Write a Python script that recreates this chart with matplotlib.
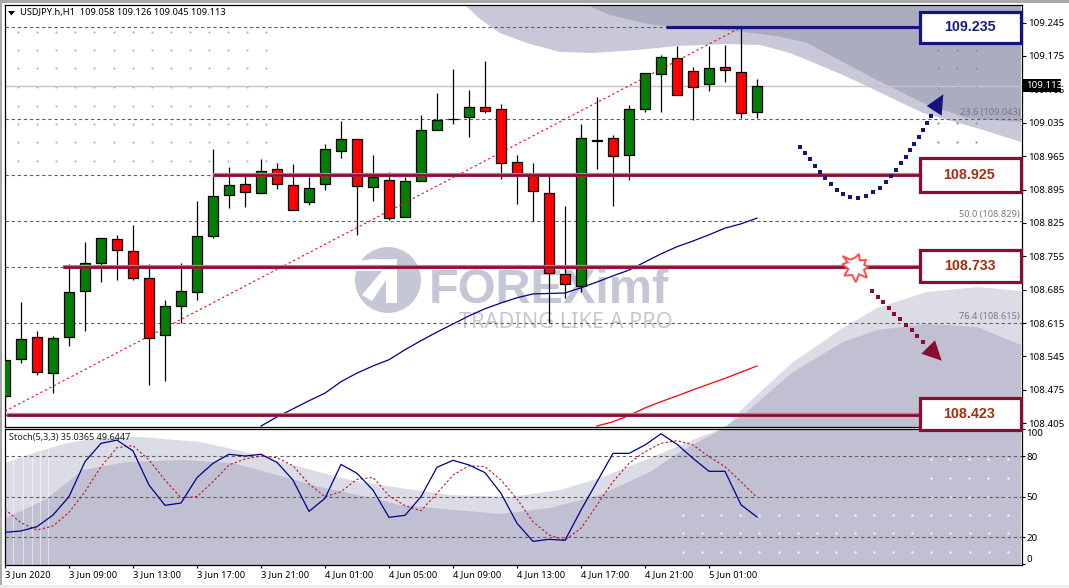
import matplotlib
matplotlib.use('Agg')
import matplotlib.pyplot as plt
from matplotlib.patches import Polygon, Rectangle, Circle

plt.rcParams['font.family'] = ['Noto Sans', 'DejaVu Sans']

W, H = 1069, 588

# candles, newest last
opens = [108.462, 108.539, 108.585, 108.510, 108.585, 108.682, 108.740, 108.791, 108.766, 108.709, 108.589, 108.650,
         108.680, 108.797, 108.883, 108.906, 108.887, 108.938, 108.904, 108.868, 108.906, 108.975, 109.000, 108.900,
         108.915, 108.837, 108.912, 109.019, 109.042, 109.047, 109.068, 109.063, 108.952, 108.923, 108.887, 108.717,
         108.692, 108.999, 109.003, 108.967, 109.063, 109.137, 109.170, 109.143, 109.116, 109.151, 109.141, 109.058]
highs = [108.537, 108.659, 108.598, 108.588, 108.738, 108.784, 108.793, 108.800, 108.821, 108.738, 108.663, 108.740,
         108.871, 108.980, 108.942, 108.928, 108.959, 108.950, 108.948, 108.922, 108.990, 109.038, 109.000, 108.968,
         108.931, 108.922, 109.051, 109.097, 109.147, 109.104, 109.164, 109.074, 108.967, 108.950, 108.927, 108.861,
         109.032, 109.089, 109.009, 109.072, 109.139, 109.177, 109.196, 109.151, 109.196, 109.198, 109.234, 109.126]
lows = [108.422, 108.532, 108.505, 108.469, 108.566, 108.599, 108.700, 108.706, 108.706, 108.484, 108.494, 108.616,
        108.664, 108.794, 108.857, 108.859, 108.887, 108.897, 108.852, 108.862, 108.894, 108.961, 108.800, 108.870,
        108.831, 108.837, 108.912, 109.019, 109.033, 109.006, 109.056, 108.916, 108.865, 108.829, 108.615, 108.667,
        108.680, 108.939, 108.861, 108.914, 109.058, 109.058, 109.093, 109.040, 109.102, 109.120, 109.045, 109.045]
closes = [108.537, 108.581, 108.512, 108.583, 108.680, 108.740, 108.793, 108.768, 108.709, 108.583, 108.650, 108.682,
          108.797, 108.881, 108.904, 108.889, 108.933, 108.906, 108.852, 108.898, 108.980, 109.000, 108.902, 108.921,
          108.835, 108.912, 109.019, 109.040, 109.043, 109.068, 109.059, 108.950, 108.925, 108.891, 108.719, 108.696,
          109.003, 108.997, 108.965, 109.063, 109.139, 109.172, 109.093, 109.110, 109.149, 109.145, 109.055, 109.113]

# moving averages start part way through the chart
ma_blue_start = 16
ma_blue = [108.399, 108.418, 108.435, 108.452, 108.468, 108.492, 108.510, 108.525, 108.538, 108.559, 108.578, 108.596,
           108.613, 108.630, 108.645, 108.657, 108.668, 108.676, 108.677, 108.678, 108.689, 108.701, 108.714, 108.726,
           108.743, 108.760, 108.775, 108.787, 108.800, 108.814, 108.823, 108.835]
ma_red_start = 37
ma_red = [108.399, 108.408, 108.421, 108.437, 108.450, 108.462, 108.475, 108.487, 108.499, 108.512, 108.525]

stoch_main = [23.7, 24.7, 27.9, 36.5, 50.1, 76.0, 89.6, 92.0, 84.0, 58.7, 43.7, 45.4, 64.2, 74.8, 81.5, 80.2,
              81.5, 75.5, 62.4, 39.2, 48.9, 74.0, 67.4, 55.0, 34.8, 36.3, 50.1, 71.9, 77.0, 73.6, 67.9, 52.6,
              30.4, 17.0, 18.5, 17.8, 40.2, 61.2, 82.2, 82.2, 88.4, 96.7, 88.9, 78.5, 68.9, 68.9, 44.1, 35.04]
stoch_signal = [40.7, 30.8, 25.4, 28.4, 38.5, 53.8, 72.3, 86.4, 87.9, 77.3, 62.4, 49.3, 50.1, 61.2, 73.6, 78.0,
                80.2, 79.0, 73.0, 59.5, 50.1, 53.8, 63.0, 64.4, 50.8, 43.4, 39.7, 52.6, 66.1, 73.0, 72.3, 62.4,
                48.4, 31.6, 21.7, 18.0, 26.7, 43.9, 61.2, 74.8, 83.4, 89.6, 91.6, 88.4, 79.7, 72.3, 61.2, 49.64]

price_ticks = [109.245, 109.175, 109.105, 109.035, 108.965, 108.895, 108.825, 108.755, 108.685, 108.615, 108.545,
               108.475, 108.405]
stoch_ticks = [0, 20, 50, 80, 100]
time_labels = ['3 Jun 2020', '3 Jun 09:00', '3 Jun 13:00', '3 Jun 17:00', '3 Jun 21:00', '4 Jun 01:00',
               '4 Jun 05:00', '4 Jun 09:00', '4 Jun 13:00', '4 Jun 17:00', '4 Jun 21:00', '5 Jun 01:00']

fib_levels = [109.235, 109.043, 108.925, 108.829, 108.733, 108.615, 108.423]
fib_text = ['23.6 (109.043)', '50.0 (108.829)', '76.4 (108.615)']
fib_text_price = [109.043, 108.829, 108.615]

resistance = 109.235
supports = [108.925, 108.733, 108.423]
support_start = [13, 3.6, 0.1]

NAVY = '#14147f'
CRIM = '#8b0c30'
LIGHT1 = '#c8c8d8'
DARK1 = '#acacc0'
LIGHT2 = '#dcdce6'
DARK2 = '#c1c0d2'
BOLD = 'Liberation Sans'


def pixel_axes(z):
    a = fig.add_axes([0, 0, 1, 1], zorder=z)
    a.set_xlim(0, W)
    a.set_ylim(H, 0)
    a.axis('off')
    return a


fig = plt.figure(figsize=(W / 100, H / 100), dpi=100, facecolor='white')

# background artwork, it runs under both panels
bg = pixel_axes(0)
top_light = [(465, 5), (480, 19), (500, 33), (527, 43), (560, 52), (593, 53), (637, 50), (677, 46), (725, 44), (760, 45),
             (790, 53), (807, 60), (843, 75), (877, 91), (923, 113), (980, 129), (1021, 142), (1021, 5)]
top_dark = [(587, 5), (610, 15), (647, 24), (680, 28), (710, 29), (743, 32), (777, 36), (807, 43), (843, 62),
            (877, 80), (923, 103), (967, 118), (1021, 122), (1021, 5)]
low_light = [(5, 463), (33, 453), (67, 443), (100, 438), (140, 437), (200, 442), (250, 453), (300, 467), (350, 480),
             (400, 488), (450, 495), (510, 497), (560, 490), (600, 478), (650, 458), (700, 437), (725, 428), (743, 408),
             (793, 362), (843, 328), (877, 308), (927, 292), (977, 287), (1021, 291), (1021, 565), (5, 565)]
low_dark = [(5, 518), (45, 500), (83, 470), (127, 462), (183, 460), (233, 463), (277, 475), (320, 487), (367, 497),
            (400, 505), (433, 508), (500, 514), (550, 508), (600, 495), (650, 472), (683, 450), (717, 432), (743, 415),
            (793, 372), (843, 342), (877, 330), (927, 324), (977, 327), (1021, 345), (1021, 565), (5, 565)]
bg.add_patch(Polygon(top_light, closed=True, fc=LIGHT1, ec='none'))
bg.add_patch(Polygon(top_dark, closed=True, fc=DARK1, ec='none'))
bg.add_patch(Polygon(low_light, closed=True, fc=LIGHT2, ec='none'))
bg.add_patch(Polygon(low_dark, closed=True, fc=DARK2, ec='none'))
bg.add_patch(Rectangle((4, 426.5), 1018, 2, fc='white', ec='none'))
bg.add_patch(Rectangle((0, 0), 2, H, fc='#a8a8a8', ec='none'))
bg.add_patch(Rectangle((0, 0), W, 2.5, fc='#a8a8a8', ec='none'))
bg.add_patch(Rectangle((0, 585), W, 3, fc='#ececec', ec='none'))

for x in [13, 23, 32, 40, 48]:
    bg.plot([x, x], [448, 565], color='white', lw=0.8, alpha=0.5)

# dot grids
dots_x = [18 + 19.1 * i for i in range(14)]
dots_y = [32, 50, 68, 87, 106, 124, 142, 161]
bg.scatter([x for x in dots_x for y in dots_y], [y for x in dots_x for y in dots_y], s=2.5, color='#b4b4ca', lw=0)
dots_x = [938, 957, 976]
dots_y = [50, 68, 87, 123, 142]
bg.scatter([x for x in dots_x for y in dots_y], [y for x in dots_x for y in dots_y], s=2.5, color='#8e8ea4', lw=0)
dots_x = [683 + 19.1 * i for i in range(18)]
dots_y = [515, 533, 552]
bg.scatter([x for x in dots_x for y in dots_y], [y for x in dots_x for y in dots_y], s=3, color='#f0f0f6', lw=0)
dots_x = [931, 950, 969, 988, 1008]
dots_y = [459, 478, 497]
bg.scatter([x for x in dots_x for y in dots_y], [y for x in dots_x for y in dots_y], s=3, color='#f0f0f6', lw=0)

# watermark
WM = '#c5c6d6'
bg.add_patch(Circle((388, 280), 33, fc=WM, ec='none'))
bg.add_patch(Polygon([(354, 271), (382, 271), (362, 295), (372, 301), (386, 280), (386, 303), (397, 303), (397, 259),
                      (372, 259), (354, 262)], closed=True, fc='white', ec='none'))
bg.text(429, 303, 'FOREXimf', fontsize=35, fontweight='bold', family=BOLD, color=WM, ha='left', va='baseline')
bg.text(459, 327.5, 'TRADING LIKE A PRO', fontsize=15.6, color=WM, ha='left', va='baseline')

# main panel
ax = fig.add_axes([4.5 / W, 1 - 426.5 / H, 1017 / W, 422 / H], zorder=2)
ax.patch.set_visible(False)
ax.set_xlim(-0.03, 63.53)
ax.set_ylim(108.398, 109.283)

for lev in fib_levels:
    ax.axhline(lev, color='#606060', lw=0.8, dashes=(3, 2.5), zorder=1)
ax.axhline(closes[-1], color='#c4c4c4', lw=1, zorder=1)

for i in range(len(opens)):
    col = 'green' if closes[i] >= opens[i] else 'red'
    ax.vlines(i, lows[i], highs[i], color='black', lw=0.9, zorder=3)
    ax.bar(i, abs(closes[i] - opens[i]), bottom=min(opens[i], closes[i]), width=0.63, color=col, edgecolor='black',
           linewidth=0.9, zorder=4)

ax.plot(range(ma_blue_start, ma_blue_start + len(ma_blue)), ma_blue, color='#00008b', lw=0.9, zorder=5)
ax.plot(range(ma_red_start, ma_red_start + len(ma_red)), ma_red, color='red', lw=0.9, zorder=5)

# fibo trend line
ax.plot([0, 46], [108.430, 109.235], color='red', lw=0.8, dashes=(2, 2.5), zorder=5)

for p, s in zip(supports, support_start):
    ax.plot([s, 57.3], [p, p], color='#c07a90', lw=3.0, zorder=6, solid_capstyle='butt')
    ax.plot([s, 57.3], [p, p], color=CRIM, lw=1.9, zorder=6, solid_capstyle='butt')
ax.plot([41.3, 57.3], [resistance, resistance], color=NAVY, lw=2.3, zorder=6, solid_capstyle='butt')

for t, p in zip(fib_text, fib_text_price):
    ax.text(63.45, p + 0.0035, t, fontsize=6.6, color='#77778a', ha='right', va='bottom', zorder=7)

ax.yaxis.tick_right()
ax.set_yticks(price_ticks)
ax.set_yticklabels(['%.3f' % p for p in price_ticks])
ax.tick_params(axis='y', length=3, width=0.8, labelsize=7, pad=1.5)
ax.set_xticks([])

# stochastic panel
ax2 = fig.add_axes([4.5 / W, 1 - 565 / H, 1017 / W, 136.5 / H], zorder=2)
ax2.patch.set_visible(False)
ax2.set_xlim(-0.03, 63.53)
ax2.set_ylim(-0.5, 100.6)
for lev in [80, 50, 20]:
    ax2.axhline(lev, color='#606060', lw=0.8, dashes=(3, 2.5), zorder=1)
ax2.plot(range(len(stoch_signal)), stoch_signal, color='#c01020', lw=0.8, dashes=(2, 2), zorder=3)
ax2.plot(range(len(stoch_main)), stoch_main, color='#00008b', lw=0.9, zorder=4)
ax2.yaxis.tick_right()
ax2.set_yticks(stoch_ticks)
labs = ax2.set_yticklabels([str(t) for t in stoch_ticks])
labs[0].set_va('bottom')
labs[-1].set_va('top')
ax2.tick_params(axis='y', length=2, width=0.8, labelsize=7, pad=1.5)
ax2.set_xticks(range(0, 4 * len(time_labels), 4))
ax2.set_xticklabels(time_labels, ha='left')
ax2.tick_params(axis='x', length=2, width=0.8, labelsize=6.7, pad=2)

for a in [ax, ax2]:
    for s in a.spines.values():
        s.set_linewidth(0.9)

# overlay: titles, boxes, arrows
top = pixel_axes(5)
top.add_patch(Polygon([(8, 11), (15, 11), (11.5, 15.5)], closed=True, fc='black', ec='none'))
top.text(20, 13, 'USDJPY.h,H1  109.058 109.126 109.045 109.113', fontsize=6.7, color='black', va='center', ha='left')
top.text(9, 437.5, 'Stoch(5,3,3) 35.0365 49.6447', fontsize=6.5, color='#222222', va='center', ha='left')

# current price flag
top.add_patch(Rectangle((1023, 79), 38, 13, fc='black', ec='none'))
top.text(1026, 85.5, '%.3f' % closes[-1], fontsize=7, color='white', va='center', ha='left')

boxes = [(109.235, 11.5, 43, NAVY, '#14207f'), (108.925, 158, 192, CRIM, '#a5300f'),
         (108.733, 250, 282, CRIM, '#a5300f'), (108.423, 398, 430, CRIM, '#a5300f')]
for val, y0, y1, ec, tc in boxes:
    top.add_patch(Rectangle((920, y0), 101, y1 - y0, fc='white', ec=ec, lw=2.3))
    top.text(969.5, (y0 + y1) / 2, '%.3f' % val, fontsize=10.3, fontweight='bold', family=BOLD, color=tc, ha='center',
             va='center')

up_x = [800, 805, 810, 815, 820, 825, 831, 837, 843, 850, 858, 866, 873, 880, 886, 891, 896, 901, 906, 910, 914, 919,
        923, 927, 931]
up_y = [147, 153, 159, 166, 172, 178, 184, 190, 194, 197, 198, 196, 192, 188, 182, 176, 170, 163, 157, 150, 144, 137,
        130, 123, 116]
top.scatter(up_x, up_y, s=8, marker='s', color=NAVY, lw=0)
top.add_patch(Polygon([(943.3, 94.3), (941.7, 115.7), (926.7, 106)], closed=True, fc=NAVY, ec='none'))

down_x = [872, 878, 883, 889, 894, 900, 906, 912, 917, 923]
down_y = [291, 297, 302, 308, 314, 319, 325, 330, 336, 342]
top.scatter(down_x, down_y, s=8, marker='s', color=CRIM, lw=0)
top.add_patch(Polygon([(935, 340.3), (941.7, 360.7), (921.3, 353.7)], closed=True, fc=CRIM, ec='none'))

star = [(842.7, 256), (850.3, 259.7), (855, 257.7), (859, 254), (859.7, 260.3), (865.7, 260), (864.3, 265), (868.3, 266.7),
        (864, 270), (867, 277.7), (859, 274.3), (855.7, 282.3), (852.3, 275), (844.3, 275.7), (848.3, 269), (842.3, 264.3),
        (847.7, 262.3)]
top.add_patch(Polygon(star, closed=True, fc='white', ec='#ff4d4d', lw=1.4))

fig.savefig('out.png', dpi=100)
